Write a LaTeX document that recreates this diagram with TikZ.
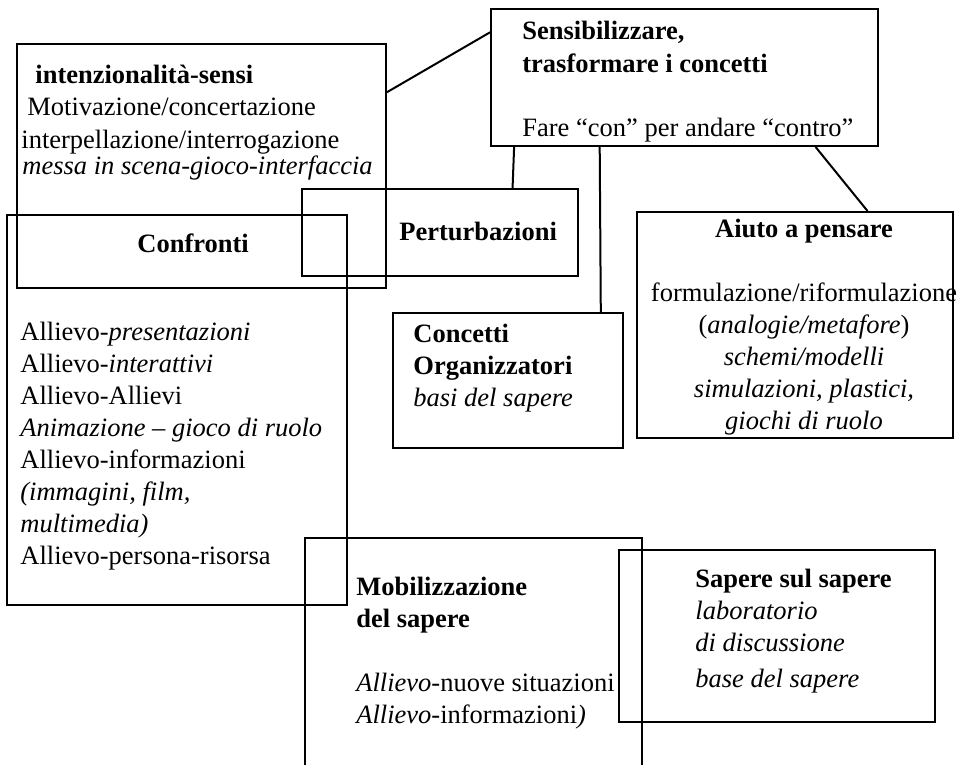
\documentclass[tikz,border=0pt]{standalone}
\usepackage{fontspec}
\setmainfont{Liberation Serif}
\usetikzlibrary{calc,fit}

\tikzset{
  frame/.style={draw, line width=1pt, inner sep=0pt},
  % multi-line texts are placed by the baseline of their last line
  txt/.style={inner sep=0pt, align=left, anchor=base west,
    font={\fontsize{13.25}{16}\selectfont}},
  txtc/.style={txt, align=center, anchor=base},
  link/.style={line width=1pt},
}

\begin{document}
\begin{tikzpicture}[x=0.5pt,y=-0.5pt]
  \useasboundingbox (0,0) rectangle (958,765);
  \clip (0,0) rectangle (958,765);
  % boxes
  \node[frame, fit={(17,44) (386,288)}] (intenz) {};
  \node[frame, fit={(491,9) (878,146)}] (sensib) {};
  \node[frame, fit={(7,215) (347,605)}] (confr) {};
  \node[frame, fit={(302,189) (578,276)}] (perturb) {};
  \node[frame, fit={(637,212) (953,438)}] (aiuto) {};
  \node[frame, fit={(393,313) (623,448)}] (concetti) {};
  \node[frame, fit={(305,538) (642,800)}] (mobil) {};
  \node[frame, fit={(619,550) (935,722)}] (sapere) {};
  % texts
  \node[txt] (intenz-t) at (21,174) {\hspace{7pt}\textbf{intenzionalità-sensi}\\
    \hspace{3pt}Motivazione/concertazione\\
    interpellazione/interrogazione\\[-3pt]
    \hspace{0.5pt}\textit{messa in scena-gioco-interfaccia}};
  \node[txt] (sensib-t) at (522,136) {\textbf{Sensibilizzare,}\\
    \textbf{trasformare i concetti}\\[16pt]
    Fare “con” per andare “contro”};
  \node[txt] (perturb-t) at (399,240) {\textbf{Perturbazioni}};
  \node[txt] (confr-t) at (137,252) {\textbf{Confronti}};
  \node[txt] (confr-l) at (20,564) {Allievo-\textit{presentazioni}\\
    Allievo-\textit{interattivi}\\
    Allievo-Allievi\\
    \textit{Animazione – gioco di ruolo}\\
    Allievo-informazioni\\
    \textit{(immagini, film,}\\
    \textit{multimedia)}\\
    Allievo-persona-risorsa};
  \node[txt] (concetti-t) at (413,406) {\textbf{Concetti}\\
    \textbf{Organizzatori}\\
    \textit{basi del sapere}};
  \node[txtc] (aiuto-t) at (804,429) {\textbf{Aiuto a pensare}\\[16pt]
    formulazione/riformulazione\\
    (\textit{analogie/metafore})\\
    \textit{schemi/modelli}\\
    \textit{simulazioni, plastici,}\\
    \textit{giochi di ruolo}};
  \node[txt] (mobil-t) at (356,723) {\textbf{Mobilizzazione}\\
    \textbf{del sapere}\\[16pt]
    \textit{Allievo}-nuove situazioni\\
    \textit{Allievo}-informazioni\textit{)}};
  \node[txt] (sapere-t) at (695,687) {\textbf{Sapere sul sapere}\\
    \textit{laboratorio}\\
    \textit{di discussione}\\[2pt]
    \textit{base del sapere}};
  % connectors
  \draw[link] ($(intenz.north east)!0.2!(intenz.south east)$) --
    ($(sensib.north west)!0.175!(sensib.south west)$);
  \draw[link] ($(sensib.south west)!0.062!(sensib.south east)$) --
    ($(perturb.north west)!0.761!(perturb.north east)$);
  \draw[link] ($(sensib.south west)!0.282!(sensib.south east)$) --
    ($(concetti.north west)!0.9!(concetti.north east)$);
  \draw[link] ($(sensib.south west)!0.837!(sensib.south east)$) --
    ($(aiuto.north west)!0.728!(aiuto.north east)$);
\end{tikzpicture}
\end{document}
